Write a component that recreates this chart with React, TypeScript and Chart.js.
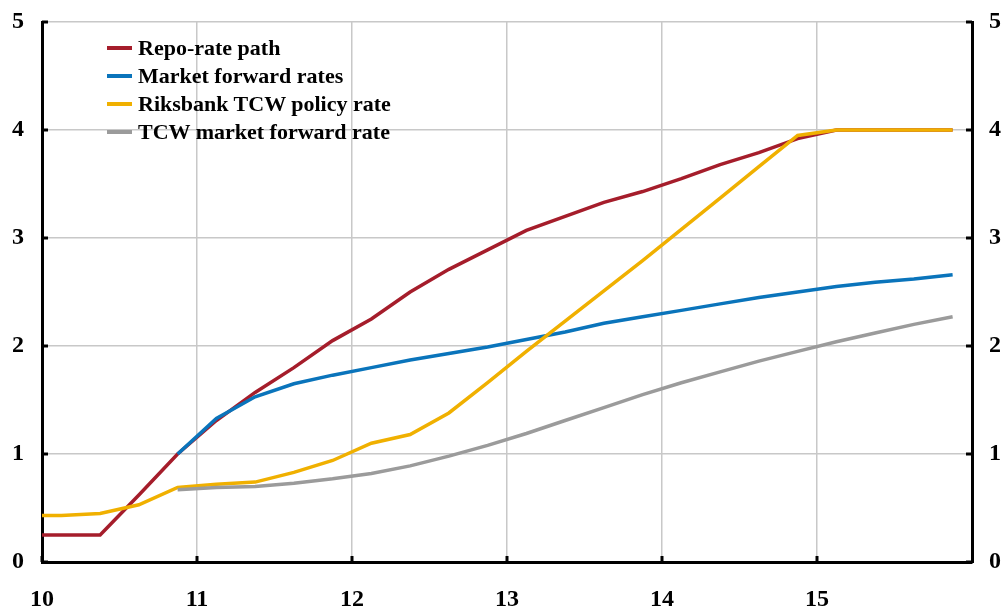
import React, { useEffect, useRef } from 'react';
import { Chart, registerables } from 'chart.js';

Chart.register(...registerables);

// Quarterly observation points (year, two-digit)
const quarters = [
  10, 10.125, 10.375, 10.625, 10.875, 11.125, 11.375, 11.625, 11.875, 12.125, 12.375, 12.625,
  12.875, 13.125, 13.375, 13.625, 13.875, 14.125, 14.375, 14.625, 14.875, 15.125, 15.375, 15.625, 15.875,
];

const repoRatePath = [
  0.25, 0.25, 0.25, 0.62, 1.0, 1.31, 1.57, 1.8, 2.05, 2.25, 2.5, 2.71,
  2.89, 3.07, 3.2, 3.33, 3.43, 3.55, 3.68, 3.79, 3.92, 4.0, 4.0, 4.0, 4.0,
];

const marketForwardRates = [
  null, null, null, null, 1.0, 1.33, 1.53, 1.65, 1.73, 1.8, 1.87, 1.93,
  1.99, 2.06, 2.13, 2.21, 2.27, 2.33, 2.39, 2.45, 2.5, 2.55, 2.59, 2.62, 2.66,
];

const riksbankTcwPolicyRate = [
  0.43, 0.43, 0.45, 0.53, 0.69, 0.72, 0.74, 0.83, 0.94, 1.1, 1.18, 1.38,
  1.66, 1.95, 2.23, 2.51, 2.79, 3.08, 3.37, 3.66, 3.95, 4.0, 4.0, 4.0, 4.0,
];

const tcwMarketForwardRate = [
  null, null, null, null, 0.67, 0.69, 0.7, 0.73, 0.77, 0.82, 0.89, 0.98,
  1.08, 1.19, 1.31, 1.43, 1.55, 1.66, 1.76, 1.86, 1.95, 2.04, 2.12, 2.2, 2.27,
];

const seriesLabels = [
  'Repo-rate path',
  'Market forward rates',
  'Riksbank TCW policy rate',
  'TCW market forward rate',
];
const seriesColors = ['#a51d2b', '#0a74bb', '#f0b000', '#9b9b9b'];

const xTickYears = [10, 11, 12, 13, 14, 15];
const yTickValues = [0, 1, 2, 3, 4, 5];

const FONT = '"Liberation Serif", "Times New Roman", Times, serif';

const tickMarks = {
  id: 'tickMarks',
  afterDraw(chart: any) {
    const { ctx, chartArea, scales } = chart;
    const len = 6;
    ctx.save();
    ctx.strokeStyle = '#000';
    ctx.lineWidth = 3;
    yTickValues.forEach((v) => {
      const y = scales.y.getPixelForValue(v);
      ctx.beginPath();
      ctx.moveTo(chartArea.left, y);
      ctx.lineTo(chartArea.left + len, y);
      ctx.stroke();
      ctx.beginPath();
      ctx.moveTo(chartArea.right, y);
      ctx.lineTo(chartArea.right - len, y);
      ctx.stroke();
    });
    xTickYears.forEach((v) => {
      const x = scales.x.getPixelForValue(v);
      ctx.beginPath();
      ctx.moveTo(x, chartArea.bottom);
      ctx.lineTo(x, chartArea.bottom - len);
      ctx.stroke();
    });
    ctx.restore();
  },
};

export default function App() {
  const canvasRef = useRef<HTMLCanvasElement | null>(null);

  useEffect(() => {
    const canvas = canvasRef.current;
    if (!canvas) return;
    const series = [repoRatePath, marketForwardRates, riksbankTcwPolicyRate, tcwMarketForwardRate];
    const orders = [3, 2, 1, 0];
    const tickFont = { family: FONT, size: 24, weight: 'bold' as const };
    const gridCfg = { color: '#c8c8c8', lineWidth: 1.5, drawTicks: false };
    const borderCfg = { color: '#000', width: 3 };
    const fitY = (w: number) => (s: any) => {
      s.width = w;
      s.paddingTop = 0;
      s.paddingBottom = 0;
    };

    const chart = new Chart(canvas, {
      type: 'line',
      data: {
        datasets: series.map((vals, i) => ({
          label: seriesLabels[i],
          data: quarters.map((x, k) => ({ x, y: vals[k] as any })),
          borderColor: seriesColors[i],
          backgroundColor: seriesColors[i],
          borderWidth: 3.5,
          pointRadius: 0,
          tension: 0,
          spanGaps: false,
          order: orders[i],
        })),
      },
      options: {
        responsive: false,
        animation: false,
        layout: { padding: { top: 22, left: 0, right: 0, bottom: 0 } },
        plugins: { legend: { display: false }, tooltip: { enabled: false } },
        scales: {
          x: {
            type: 'linear',
            position: 'bottom',
            min: 10,
            max: 16,
            afterBuildTicks: (s: any) => {
              s.ticks = [10, 11, 12, 13, 14, 15, 16].map((v) => ({ value: v }));
            },
            ticks: {
              stepSize: 1,
              autoSkip: false,
              maxRotation: 0,
              color: '#000',
              font: tickFont,
              padding: 23,
              callback: (v: any) => (xTickYears.includes(Number(v)) ? String(v) : ''),
            },
            grid: gridCfg,
            border: borderCfg,
            afterFit: (s: any) => {
              s.height = 48;
              s.paddingLeft = 0;
              s.paddingRight = 0;
            },
          },
          y: {
            type: 'linear',
            position: 'left',
            min: 0,
            max: 5,
            ticks: { stepSize: 1, color: '#000', font: tickFont, padding: 18 },
            grid: gridCfg,
            border: borderCfg,
            afterFit: fitY(42),
          },
          y2: {
            type: 'linear',
            position: 'right',
            min: 0,
            max: 5,
            ticks: { stepSize: 1, color: '#000', font: tickFont, padding: 17 },
            grid: { drawOnChartArea: false, drawTicks: false },
            border: borderCfg,
            afterFit: fitY(33),
          },
        },
      },
      plugins: [tickMarks],
    });
    return () => chart.destroy();
  }, []);

  return (
    <div style={{ position: 'fixed', left: 0, top: 0, width: 1005, height: 610, background: '#fff' }}>
      <canvas ref={canvasRef} width={1005} height={610} style={{ position: 'absolute', left: 0, top: 0 }} />
      <div style={{ position: 'absolute', left: 107, top: 34, fontFamily: FONT, fontWeight: 'bold', fontSize: 22 }}>
        {seriesLabels.map((label, i) => (
          <div key={label} style={{ display: 'flex', alignItems: 'center', height: 28, whiteSpace: 'nowrap' }}>
            <span style={{ display: 'inline-block', width: 25, height: 4, background: seriesColors[i], marginRight: 6 }} />
            <span style={{ color: '#000' }}>{label}</span>
          </div>
        ))}
      </div>
    </div>
  );
}
